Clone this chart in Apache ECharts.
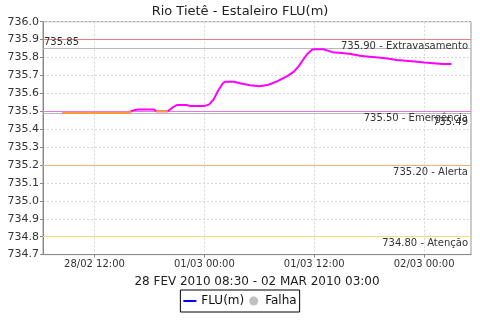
<!DOCTYPE html>
<html><head><meta charset="utf-8">
<script src="https://cdn.jsdelivr.net/npm/echarts@6/dist/echarts.min.js"></script>
<style>html,body{margin:0;padding:0;background:#fff}#c{width:480px;height:320px}</style>
</head><body><div id="c"></div>
<script>
const titleText = 'Rio Tietê - Estaleiro FLU(m)';
const xAxisTitle = '28 FEV 2010 08:30 - 02 MAR 2010 03:00';
const xMin = '2010-02-28 06:22:30';
const xMax = '2010-03-02 05:07:30';
const xTicks = ['2010-02-28 12:00', '2010-03-01 00:00', '2010-03-01 12:00', '2010-03-02 00:00'];
const yMin = 734.7, yMax = 736.0, yStep = 0.1;

const fluTimes = ['2010-02-28 08:30','2010-02-28 10:00','2010-02-28 12:00','2010-02-28 14:00','2010-02-28 15:30','2010-02-28 15:45','2010-02-28 16:00','2010-02-28 16:15','2010-02-28 16:45','2010-02-28 18:30','2010-02-28 18:45','2010-02-28 20:00','2010-02-28 20:30','2010-02-28 21:00','2010-02-28 22:00','2010-02-28 22:30','2010-03-01 00:00','2010-03-01 00:30','2010-03-01 01:00','2010-03-01 01:30','2010-03-01 02:00','2010-03-01 02:15','2010-03-01 03:15','2010-03-01 04:00','2010-03-01 05:00','2010-03-01 06:00','2010-03-01 07:00','2010-03-01 08:00','2010-03-01 09:00','2010-03-01 09:45','2010-03-01 10:15','2010-03-01 10:45','2010-03-01 11:15','2010-03-01 11:45','2010-03-01 12:00','2010-03-01 13:00','2010-03-01 14:00','2010-03-01 15:00','2010-03-01 16:00','2010-03-01 17:00','2010-03-01 18:00','2010-03-01 19:00','2010-03-01 20:00','2010-03-01 21:00','2010-03-01 22:00','2010-03-01 23:00','2010-03-02 00:00','2010-03-02 01:00','2010-03-02 02:00','2010-03-02 03:00'];
const fluValues = [735.49,735.49,735.49,735.49,735.49,735.495,735.50,735.505,735.51,735.51,735.50,735.50,735.52,735.535,735.535,735.53,735.53,735.537,735.565,735.615,735.655,735.665,735.665,735.655,735.645,735.64,735.648,735.668,735.695,735.72,735.748,735.785,735.82,735.843,735.846,735.846,735.83,735.825,735.82,735.81,735.805,735.80,735.795,735.786,735.782,735.778,735.772,735.768,735.764,735.764];

const flagTimes = ['2010-02-28 08:30','2010-02-28 10:00','2010-02-28 12:00','2010-02-28 14:00','2010-02-28 15:30','2010-02-28 15:45','2010-02-28 16:00','2010-02-28 16:10','2010-02-28 18:35','2010-02-28 18:45','2010-02-28 20:00'];
const flagValues = [735.49,735.49,735.49,735.49,735.49,735.495,735.50,null,null,735.50,735.50];

const thresholdValues = [735.90, 735.85, 735.50, 735.49, 735.20, 734.80];
const thresholdLabels = ['735.90 - Extravasamento', '735.85', '735.50 - Emergência', '735.49', '735.20 - Alerta', '734.80 - Atenção'];
const thresholdColors = ['#e88080', '#b8b8b8', '#e878e8', '#b8b8b8', '#f0b080', '#f0e070'];
const thresholdPos = ['insideEndBottom', 'insideStartTop', 'insideEndBottom', 'insideEndBottom', 'insideEndBottom', 'insideEndBottom'];
const thresholdOffset = [[0,0],[-2,1],[0,0],[0,2],[0,0],[0,0]];

const legendNames = ['FLU(m)', 'Falha'];

const ts = s => echarts.time.parse(s).getTime();
function pad(n){return (n<10?'0':'')+n;}
const chart = echarts.init(document.getElementById('c'), null, {renderer: 'canvas'});
const font = 'DejaVu Sans';
const tickTs = xTicks.map(ts);
chart.setOption({
  animation: false,
  backgroundColor: '#ffffff',
  title: {text: titleText, left: 'center', top: 0, textStyle: {fontFamily: font, fontSize: 13, fontWeight: 'normal', color: '#222'}},
  grid: {left: 43, right: 9, top: 21.7, bottom: 65.4, show: true, borderColor: '#999', borderWidth: 1, containLabel: false},
  xAxis: {
    type: 'value', min: ts(xMin), max: ts(xMax),
    name: xAxisTitle, nameLocation: 'middle', nameGap: 21,
    nameTextStyle: {fontFamily: font, fontSize: 12, color: '#222'},
    axisLine: {lineStyle: {color: '#888'}},
    axisTick: {show: true, length: 3, lineStyle: {color: '#888'}, customValues: tickTs},
    axisLabel: {fontFamily: font, fontSize: 10, color: '#333', margin: 5, customValues: tickTs,
      formatter: v => { const d = new Date(v); return pad(d.getDate()) + '/' + pad(d.getMonth()+1) + ' ' + pad(d.getHours()) + ':' + pad(d.getMinutes()); }},
    splitLine: {show: true, lineStyle: {color: '#d8d8d8', type: [2,2]}}
  },
  yAxis: {
    type: 'value', min: yMin, max: yMax, interval: yStep,
    axisLine: {show: true, lineStyle: {color: '#888'}},
    axisTick: {show: true, length: 3, lineStyle: {color: '#888'}},
    axisLabel: {fontFamily: font, fontSize: 11, color: '#333', margin: 4, formatter: v => v.toFixed(1)},
    splitLine: {show: true, lineStyle: {color: '#d8d8d8', type: [2,2]}}
  },
  legend: {
    bottom: 8, left: 'center', orient: 'horizontal',
    borderColor: '#000', borderWidth: 1, padding: [5, 3, 5, 3], itemGap: 5,
    itemWidth: 13, itemHeight: 9,
    textStyle: {fontFamily: font, fontSize: 12, color: '#111'},
    data: [
      {name: legendNames[0], icon: 'path://M0,0L13,0L13,2L0,2Z', itemStyle: {color: '#0000ff'}},
      {name: legendNames[1], icon: 'circle', itemStyle: {color: '#c0c0c0'}}
    ]
  },
  series: [
    {
      name: legendNames[0], type: 'line', symbol: 'none', z: 3,
      data: fluTimes.map((t, i) => [ts(t), fluValues[i]]),
      lineStyle: {color: '#ff00ff', width: 2}, itemStyle: {color: '#0000ff'},
      markLine: {
        silent: true, symbol: 'none', z: 1,
        data: thresholdValues.map((v, i) => ({
          yAxis: v,
          lineStyle: {color: thresholdColors[i], width: 1, type: 'solid'},
          label: {show: true, formatter: thresholdLabels[i], position: thresholdPos[i], distance: [3, 2], offset: thresholdOffset[i], fontFamily: font, fontSize: 10, color: '#333'}
        }))
      }
    },
    {
      name: legendNames[1], type: 'line', symbol: 'none', z: 4, connectNulls: false,
      data: flagTimes.map((t, i) => [ts(t), flagValues[i]]),
      lineStyle: {color: '#ff9933', width: 2}, itemStyle: {color: '#c0c0c0'}
    }
  ]
});
</script></body></html>
